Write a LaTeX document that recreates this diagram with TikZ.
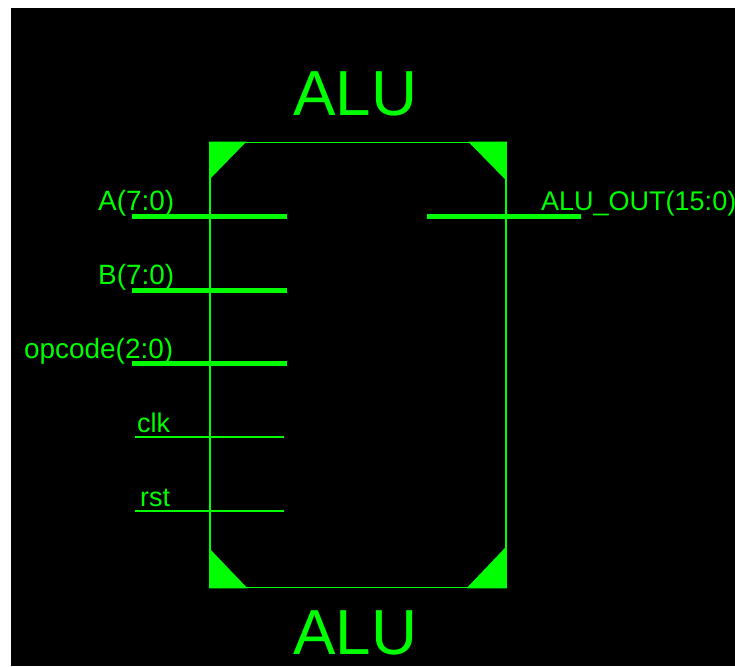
\documentclass[tikz,border=0pt]{standalone}
\usepackage{fontspec}
\setmainfont{Liberation Sans}
\definecolor{alugreen}{RGB}{0,255,0}
\tikzset{
  pinlabel/.style={text=alugreen,inner sep=0pt,anchor=base west,font=\fontsize{27}{27}\selectfont},
  widelabel/.style={pinlabel,font=\fontsize{27.9}{28}\selectfont},
  titlelabel/.style={text=alugreen,inner sep=0pt,anchor=base west,font=\fontsize{63.7}{64}\selectfont},
  buspin/.style={draw=alugreen,line width=5pt},
  wirepin/.style={draw=alugreen,line width=1.5pt},
  corner/.style={fill=alugreen,draw=none},
  blockbox/.style={draw=alugreen,line width=1.5pt,outer sep=0pt,minimum width=296pt,minimum height=445pt,inner sep=0pt,anchor=north west}
}
\begin{document}
\begin{tikzpicture}[x=1pt,y=-1pt]
\useasboundingbox (0,0) rectangle (735,666);
\fill[white] (0,0) rectangle (735,666);
\fill[black] (11,8) rectangle (735,666);
% block
\node[blockbox] (block) at (210,142.5) {};
\fill[corner] (209,141.5) -- (246.5,141.5) -- (209,180) -- cycle;
\fill[corner] (468,141.5) -- (506.8,141.5) -- (506.8,181) -- cycle;
\fill[corner] (209,548) -- (247.5,588.3) -- (209,588.3) -- cycle;
\fill[corner] (466.5,588.3) -- (506.8,546) -- (506.8,588.3) -- cycle;
% titles
\node[titlelabel] (titletop) at (293,115) {ALU};
\node[titlelabel] (titlebottom) at (293,654) {ALU};
% pin ends
\coordinate (a1) at (132,216);   \coordinate (a2) at (287,216);
\coordinate (b1) at (132,290);   \coordinate (b2) at (287,290);
\coordinate (o1) at (132,363);   \coordinate (o2) at (287,363);
\coordinate (c1) at (135,437);   \coordinate (c2) at (283.5,437);
\coordinate (r1) at (135,511);   \coordinate (r2) at (283.5,511);
\coordinate (q1) at (427,216);   \coordinate (q2) at (581,216);
\draw[buspin] (a1) -- (a2);
\draw[buspin] (b1) -- (b2);
\draw[buspin] (o1) -- (o2);
\draw[wirepin] (c1) -- (c2);
\draw[wirepin] (r1) -- (r2);
\draw[buspin] (q1) -- (q2);
% labels
\node[widelabel] (la) at (98,210) {A(7:0)};
\node[widelabel] (lb) at (98,284) {B(7:0)};
\node[widelabel] (lo) at (24,358) {opcode(2:0)};
\node[pinlabel] (lc) at (137,432) {clk};
\node[pinlabel] (lr) at (140,506) {rst};
\node[pinlabel] (lq) at (541,210) {ALU\_OUT(15:0)};
\end{tikzpicture}
\end{document}
